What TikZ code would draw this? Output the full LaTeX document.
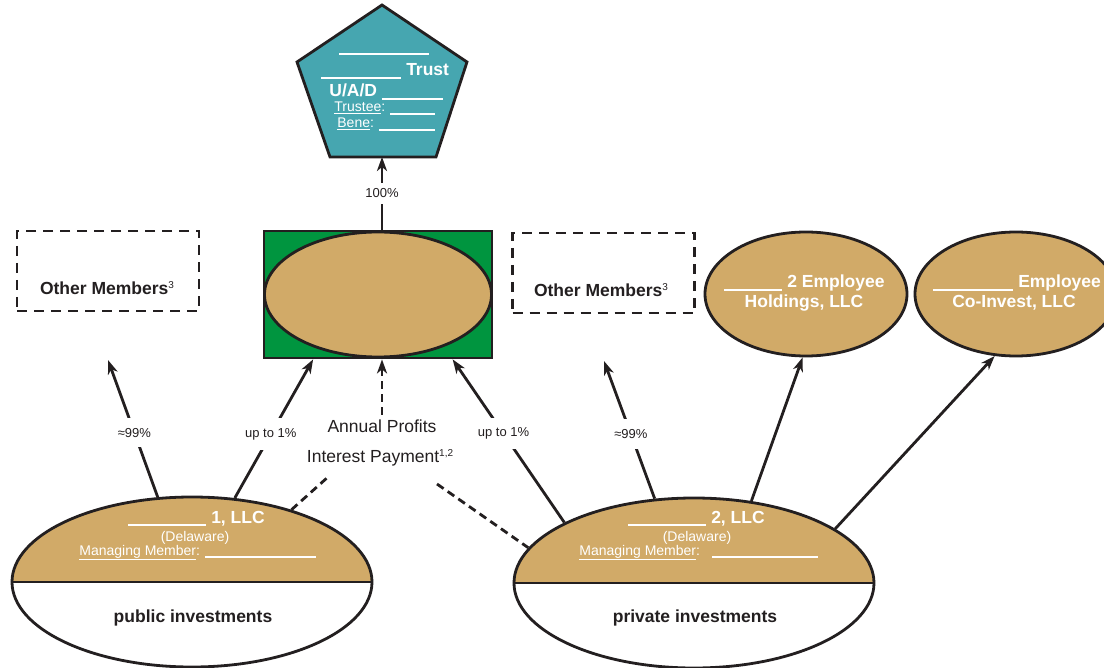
\documentclass[tikz,border=0pt]{standalone}
\usepackage{fontspec}
\setmainfont{Liberation Sans}
\usepackage{tikz}
\usetikzlibrary{calc}
\usetikzlibrary{arrows.meta}
\usetikzlibrary{positioning}
\usepgflibrary{shapes.geometric}

\definecolor{oval}{RGB}{209,170,104}
\definecolor{trustcol}{RGB}{70,166,176}
\definecolor{fundgreen}{RGB}{0,149,63}
\definecolor{ink}{RGB}{35,31,32}

\newcommand{\blank}[1]{\rule[-3pt]{#1}{2pt}}
\newcommand{\fnmark}[1]{\raisebox{6pt}{\fontsize{10}{10}\selectfont\mdseries #1}}

\begin{document}
\begin{tikzpicture}[x=1pt, y=-1pt, color=ink, line width=2.8pt,
      llc/.style   ={ellipse, draw, fill=white, minimum width=360pt, minimum height=170pt, inner sep=0pt,
                     path picture={\fill[oval] (path picture bounding box.north west) rectangle (path picture bounding box.east);}},
      emp/.style   ={ellipse, draw, fill=oval, minimum width=202pt, minimum height=124pt, inner sep=0pt},
      others/.style={rectangle, draw, dash pattern=on 10pt off 7pt, minimum width=182pt, minimum height=80pt},
      pct/.style   ={fill=white, font=\fontsize{13}{15}\selectfont, inner xsep=2pt, inner ysep=10pt},
      head/.style  ={font=\fontsize{17.5}{21}\selectfont\bfseries, inner sep=0pt},
      plain/.style ={font=\fontsize{17.5}{21}\selectfont, inner sep=0pt},
      note/.style  ={font=\fontsize{14}{16}\selectfont, inner sep=0pt},
      arr/.style   ={-{Stealth[length=14pt,width=10pt,inset=4pt]}},
      link/.style  ={dash pattern=on 8pt off 5pt}
    ]
    \useasboundingbox (0,0) rectangle (1104,668);

    % trust on top
    \draw [fill=trustcol] (382,5) -- (467,62) -- (436,157) -- (330,157) -- (297,62) -- cycle;
    \coordinate (trust) at (382,157);
    \node [head, text=white, anchor=base west] (tr1) at (338,52) {\blank{90pt}};
    \node [head, text=white, anchor=base west] (tr2) at (320,76) {\blank{80pt} Trust};
    \node [head, text=white, anchor=base west] (tr3) at (328,97) {U/A/D \blank{61pt}};
    \node [note, text=white, anchor=base west] (tr4) at (333,112) {\underline{Trustee}: \blank{45pt}};
    \node [note, text=white, anchor=base west] (tr5) at (336,128) {\underline{Bene}: \blank{56pt}};

    % fund
    \node [rectangle, draw, fill=fundgreen, minimum width=228pt, minimum height=127pt] (fund) at (378,294.5) {};
    \node [ellipse, draw, fill=oval, minimum width=227pt, minimum height=125pt, inner sep=0pt] (fundoval) at (378,294.5) {};

    % members
    \node [others] (om1) at (108,271) {};
    \node [head, anchor=base] (om1txt) at (107,295) {Other Members\fnmark{3}};
    \node [others] (om2) at (603.5,273) {};
    \node [head, anchor=base] (om2txt) at (601,297) {Other Members\fnmark{3}};

    \node [emp] (emp1) at (806,294) {};
    \node [head, text=white, anchor=base west] (emp1a) at (723,288) {\blank{58pt} 2 Employee};
    \node [head, text=white, anchor=base] (emp1b) at (804,308) {Holdings, LLC};
    \node [emp] (emp2) at (1016,294) {};
    \node [head, text=white, anchor=base west] (emp2a) at (932,288) {\blank{80pt} Employee};
    \node [head, text=white, anchor=base] (emp2b) at (1014,308) {Co-Invest, LLC};

    % the two LLCs
    \node [llc] (llc1) at (192,582) {};
    \draw (llc1.west) -- (llc1.east);
    \node [head, text=white, anchor=base west] (llc1a) at (127,523) {\blank{78pt} 1, LLC};
    \node [note, text=white, anchor=base] (llc1b) at (195,541) {(Delaware)};
    \node [note, text=white, anchor=base west] (llc1c) at (78,555) {\underline{Managing Member}: \blank{111pt}};
    \node [head, anchor=base] (llc1d) at (193,622) {public investments};

    \node [llc] (llc2) at (694,583) {};
    \draw (llc2.west) -- (llc2.east);
    \node [head, text=white, anchor=base west] (llc2a) at (627,523) {\blank{78pt} 2, LLC};
    \node [note, text=white, anchor=base] (llc2b) at (697,541) {(Delaware)};
    \node [note, text=white, anchor=base west] (llc2c) at (578,555) {\underline{Managing Member}:\hspace{12pt}\blank{106pt}};
    \node [head, anchor=base] (llc2d) at (695,622) {private investments};

    \node [plain, anchor=base] (profits) at (382,433) {Annual Profits};
    \node [plain, anchor=base] (ipay) at (380,463) {Interest Payment\fnmark{1,2}};

    \coordinate (om1tip) at (108,360);
    \coordinate (om2tip) at (604,361);
    \coordinate (dashL) at (328,477);
    \coordinate (dashR) at (437,484);

    \draw [arr] (trust |- fund.north) -- node [pct, inner ysep=6pt] (hundred) {100\%} (trust);
    \draw [arr] (llc1.112) -- node [pct, pos=0.47] (p1) {≈99\%} (om1tip);
    \draw [arr] (llc1.63) -- node [pct, pos=0.46] (p2) {up to 1\%} (fund.225);
    \draw [arr] (llc2.155) -- node [pct, pos=0.545] (p3) {up to 1\%} (fund.-41.5);
    \draw [arr] (llc2.115) -- node [pct, pos=0.47] (p4) {≈99\%} (om2tip);
    \draw [arr] (llc2.55) -- (emp1.-93);
    \draw [arr] (llc2.21) -- (emp2.-109);
    \draw [arr, link] ($(profits.north)+(0,-4)$) -- (profits.north |- fund.south);
    \draw [link] (llc1.36) -- (dashL);
    \draw [link] (dashR) -- (llc2.168);
  \end{tikzpicture}
\end{document}
